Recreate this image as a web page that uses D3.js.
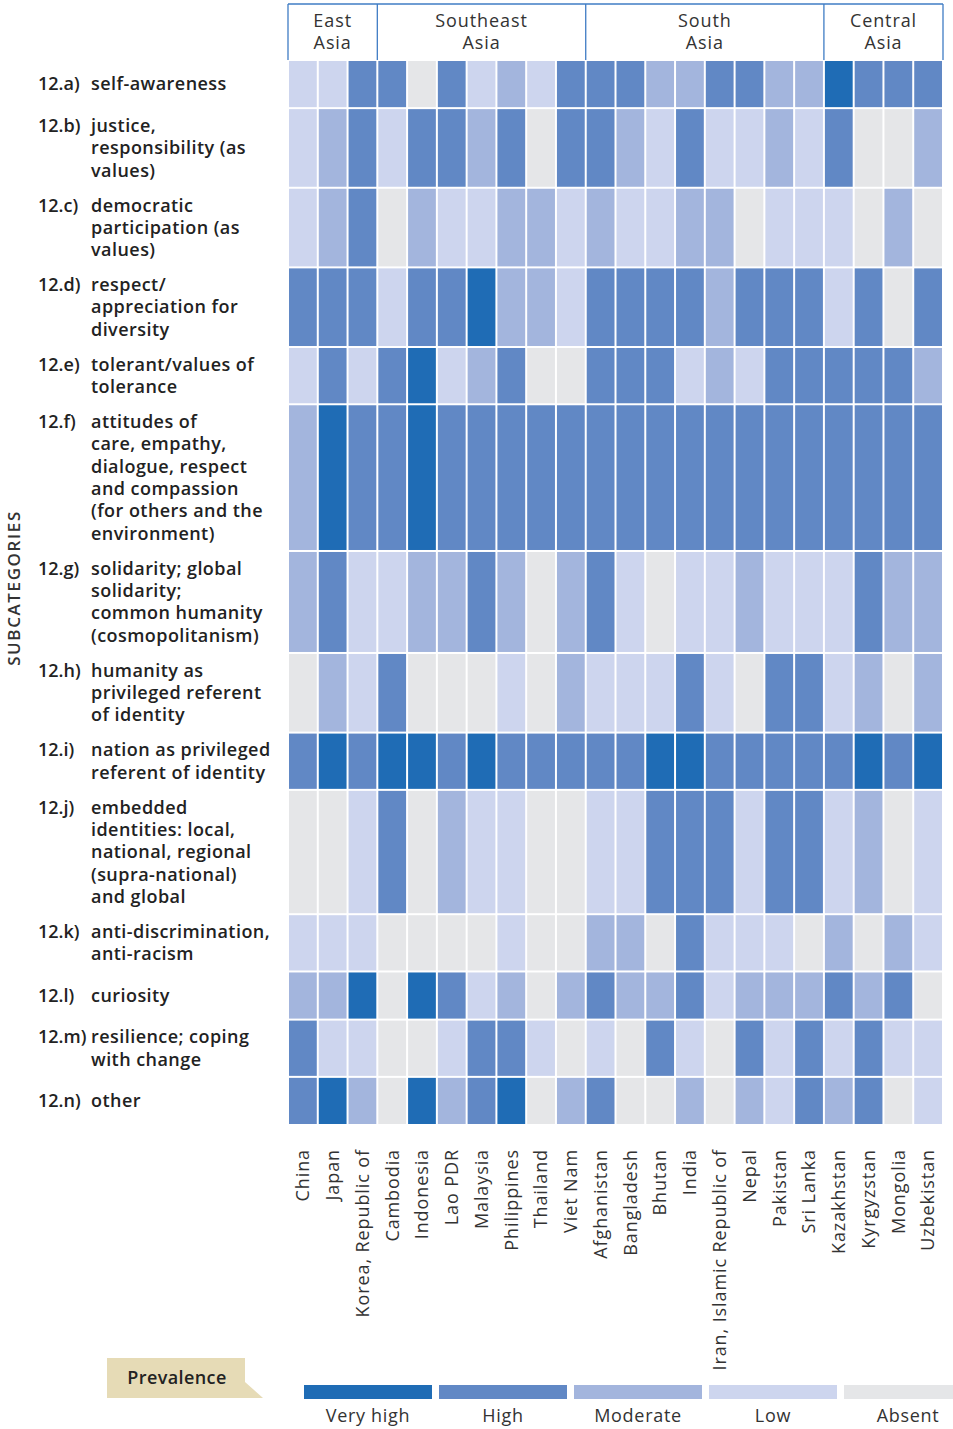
<!DOCTYPE html>
<html>
<head>
<meta charset="utf-8">
<script src="https://cdn.jsdelivr.net/npm/d3@7"></script>
<style>
  html, body { margin: 0; padding: 0; background: #fff; }
  svg { display: block; font-family: "Open Sans", "Noto Sans", sans-serif; }
</style>
</head>
<body>
<div id="chart"></div>
<script>
// Countries (columns) and the region each belongs to
const countries = ["China", "Japan", "Korea, Republic of", "Cambodia", "Indonesia", "Lao PDR",
  "Malaysia", "Philippines", "Thailand", "Viet Nam", "Afghanistan", "Bangladesh", "Bhutan",
  "India", "Iran, Islamic Republic of", "Nepal", "Pakistan", "Sri Lanka", "Kazakhstan",
  "Kyrgyzstan", "Mongolia", "Uzbekistan"];
const regions = [
  { name: ["East", "Asia"], count: 3 },
  { name: ["Southeast", "Asia"], count: 7 },
  { name: ["South", "Asia"], count: 8 },
  { name: ["Central", "Asia"], count: 4 }
];

// Subcategory codes and their wrapped labels
const codes = ["12.a)", "12.b)", "12.c)", "12.d)", "12.e)", "12.f)", "12.g)",
  "12.h)", "12.i)", "12.j)", "12.k)", "12.l)", "12.m)", "12.n)"];
const labels = [
  ["self-awareness"],
  ["justice,", "responsibility (as", "values)"],
  ["democratic", "participation (as", "values)"],
  ["respect/", "appreciation for", "diversity"],
  ["tolerant/values of", "tolerance"],
  ["attitudes of", "care, empathy,", "dialogue, respect", "and compassion", "(for others and the", "environment)"],
  ["solidarity; global", "solidarity;", "common humanity", "(cosmopolitanism)"],
  ["humanity as", "privileged referent", "of identity"],
  ["nation as privileged", "referent of identity"],
  ["embedded", "identities: local,", "national, regional", "(supra-national)", "and global"],
  ["anti-discrimination,", "anti-racism"],
  ["curiosity"],
  ["resilience; coping", "with change"],
  ["other"]
];

// Prevalence levels: 0 Absent, 1 Low, 2 Moderate, 3 High, 4 Very high
const levels = ["Absent", "Low", "Moderate", "High", "Very high"];
const legendOrder = ["Very high", "High", "Moderate", "Low", "Absent"];

// One array per subcategory, values in country order
const prevalence = [
  [1,1,3,3,0,3,1,2,1,3,3,3,2,2,3,3,2,2,4,3,3,3],
  [1,2,3,1,3,3,2,3,0,3,3,2,1,3,1,1,2,1,3,0,0,2],
  [1,2,3,0,2,1,1,2,2,1,2,1,1,2,2,0,1,1,1,0,2,0],
  [3,3,3,1,3,3,4,2,2,1,3,3,3,3,2,3,3,3,1,3,0,3],
  [1,3,1,3,4,1,2,3,0,0,3,3,3,1,2,1,3,3,3,3,3,2],
  [2,4,3,3,4,3,3,3,3,3,3,3,3,3,3,3,3,3,3,3,3,3],
  [2,3,1,1,2,2,3,2,0,2,3,1,0,1,1,2,1,1,1,3,2,2],
  [0,2,1,3,0,0,0,1,0,2,1,1,1,3,1,0,3,3,1,2,0,2],
  [3,4,3,4,4,3,4,3,3,3,3,3,4,4,3,3,3,3,3,4,3,4],
  [0,0,1,3,0,2,1,1,0,0,1,1,3,3,3,1,3,3,1,2,0,1],
  [1,1,1,0,0,0,0,1,0,0,2,2,0,3,1,1,1,0,2,0,2,1],
  [2,2,4,0,4,3,1,2,0,2,3,2,2,3,1,2,2,2,3,2,3,0],
  [3,1,1,0,0,1,3,3,1,0,1,0,3,1,0,3,1,3,1,3,1,1],
  [3,4,2,0,4,2,3,4,0,2,3,0,0,2,0,2,1,3,2,3,0,1]
];

const W = 953, H = 1429;
const gridLeft = 288, gridRight = 943, gridTop = 60, gridBottom = 1125;
const lineH = 22.3;

const color = d3.scaleOrdinal()
  .domain(levels)
  .range(["#e5e6e8", "#cdd5ee", "#a3b5dd", "#6188c5", "#1f6cb5"]);

const svg = d3.select("#chart").append("svg")
  .attr("width", W).attr("height", H);

// Column scale
const x = d3.scaleBand().domain(countries).range([gridLeft, gridRight]).padding(0);

// Row heights grow with the number of label lines
const rowH = labels.map(l => Math.max(48, 12.5 + lineH * l.length));
const totalH = d3.sum(rowH);
const y = d3.scaleLinear().domain([0, totalH]).range([gridTop, gridBottom]);
const rowStart = d3.cumsum([0, ...rowH]);

// Region header
const header = svg.append("g");
let startIdx = 0;
regions.forEach((r, i) => {
  const x0 = x(countries[startIdx]);
  const x1 = x(countries[startIdx + r.count - 1]) + x.bandwidth();
  const cx = (x0 + x1) / 2;
  r.name.forEach((t, j) => {
    header.append("text")
      .attr("x", cx).attr("y", 21 + j * 22)
      .attr("dy", "0.35em")
      .attr("text-anchor", "middle")
      .attr("font-size", 18)
      .attr("letter-spacing", "0.9px")
      .attr("fill", "#333")
      .text(t);
  });
  header.append("line")
    .attr("x1", x0).attr("x2", x0).attr("y1", 4).attr("y2", gridTop)
    .attr("stroke", "#3f7cc4").attr("stroke-width", 1.3);
  startIdx += r.count;
});
header.append("line")
  .attr("x1", gridRight).attr("x2", gridRight).attr("y1", 4).attr("y2", gridTop)
  .attr("stroke", "#3f7cc4").attr("stroke-width", 1.3);
header.append("line")
  .attr("x1", x.range()[0]).attr("x2", gridRight).attr("y1", 4).attr("y2", 4)
  .attr("stroke", "#3f7cc4").attr("stroke-width", 1.3);

// Heatmap cells
const cells = [];
prevalence.forEach((row, ri) => row.forEach((v, ci) => cells.push({ ri, ci, v })));
svg.append("g").selectAll("rect").data(cells).join("rect")
  .attr("x", d => x(countries[d.ci]) + 1)
  .attr("y", d => y(rowStart[d.ri]) + 1)
  .attr("width", x.bandwidth() - 2)
  .attr("height", d => y(rowStart[d.ri + 1]) - y(rowStart[d.ri]) - 2)
  .attr("fill", d => color(levels[d.v]));

// Row labels
const rowLabels = svg.append("g")
  .attr("font-size", 18).attr("font-weight", 600).attr("fill", "#222")
  .attr("letter-spacing", "0.45px");
labels.forEach((lines, ri) => {
  const cy = (y(rowStart[ri]) + y(rowStart[ri + 1])) / 2;
  const top = cy - (lines.length - 1) * lineH / 2;
  rowLabels.append("text")
    .attr("x", 38).attr("y", top).attr("dy", "0.35em")
    .attr("letter-spacing", "0px")
    .text(codes[ri]);
  lines.forEach((t, j) => {
    rowLabels.append("text")
      .attr("x", 91).attr("y", top + j * lineH).attr("dy", "0.35em")
      .text(t);
  });
});

// Vertical axis title
svg.append("text")
  .attr("transform", "translate(14,588) rotate(-90)")
  .attr("dy", "0.35em")
  .attr("text-anchor", "middle")
  .attr("font-size", 17).attr("font-weight", 600).attr("fill", "#333")
  .attr("letter-spacing", "1.6px")
  .text("SUBCATEGORIES");

// Country labels
svg.append("g").selectAll("text").data(countries).join("text")
  .attr("transform", d => `translate(${x(d) + x.bandwidth() / 2},1149) rotate(-90)`)
  .attr("dy", "0.35em")
  .attr("text-anchor", "end")
  .attr("font-size", 18).attr("fill", "#333")
  .attr("letter-spacing", "0.9px")
  .text(d => d);

// Legend
const legend = svg.append("g");
legend.append("path")
  .attr("d", "M107,1358 L245,1358 L245,1382 L263,1398 L107,1398 Z")
  .attr("fill", "#e6dbb6");
legend.append("text")
  .attr("x", 177).attr("y", 1378).attr("dy", "0.35em")
  .attr("text-anchor", "middle")
  .attr("font-size", 18).attr("font-weight", 600).attr("fill", "#222")
  .attr("letter-spacing", "0.4px")
  .text("Prevalence");

const lx = d3.scaleBand().domain(legendOrder).range([304, 304 + 5 * 135 - 7]).paddingInner(7 / 135);
legend.selectAll("rect.key").data(legendOrder).join("rect")
  .attr("class", "key")
  .attr("x", d => lx(d)).attr("y", 1385)
  .attr("width", lx.bandwidth()).attr("height", 14)
  .attr("fill", d => color(d));
legend.selectAll("text.key").data(legendOrder).join("text")
  .attr("class", "key")
  .attr("x", d => lx(d) + lx.bandwidth() / 2)
  .attr("y", 1416).attr("dy", "0.35em")
  .attr("text-anchor", "middle")
  .attr("font-size", 18).attr("fill", "#333")
  .attr("letter-spacing", "0.7px")
  .text(d => d);
</script>
</body>
</html>
